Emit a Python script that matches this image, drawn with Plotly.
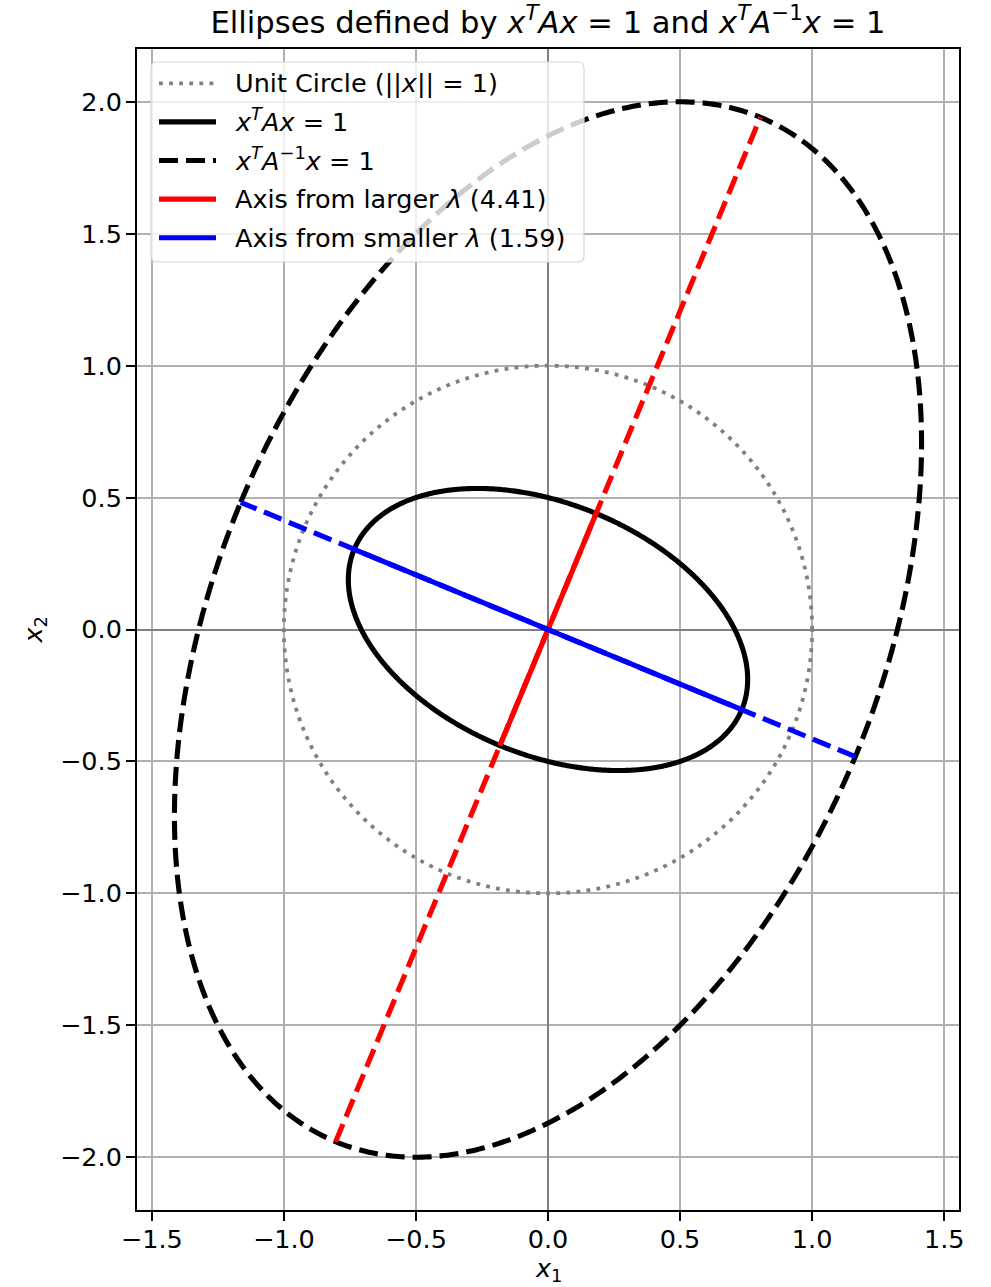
import numpy as np
import plotly.graph_objects as go

# Symmetric positive-definite matrix A defining the quadratic forms
A_row1 = [2.0, 1.0]
A_row2 = [1.0, 4.0]
A = np.array([A_row1, A_row2])

# Tick positions for both axes
x_ticks = [-1.5, -1.0, -0.5, 0.0, 0.5, 1.0, 1.5]
y_ticks = [-2.0, -1.5, -1.0, -0.5, 0.0, 0.5, 1.0, 1.5, 2.0]

# Eigen-decomposition (ascending eigenvalues)
eigvals, eigvecs = np.linalg.eigh(A)
lam_small, lam_large = eigvals
v_small, v_large = eigvecs[:, 0], eigvecs[:, 1]

theta = np.linspace(0, 2 * np.pi, 721)
circle = np.vstack([np.cos(theta), np.sin(theta)])

# x^T A x = 1  ->  x = V diag(1/sqrt(lam)) u
ell_A = eigvecs @ np.diag(1 / np.sqrt(eigvals)) @ circle
# x^T A^{-1} x = 1  ->  x = V diag(sqrt(lam)) u
ell_Ainv = eigvecs @ np.diag(np.sqrt(eigvals)) @ circle

FONT = "DejaVu Sans"
FS = 25.5          # base font size (ticks, labels, legend)
TITLE_FS = 30.6    # title font size
LW = 5.1           # main line width
DASH = "19px,8px"
DOT = "3.8px,6.3px"
XTA = "<i>x</i><sup><i>T</i></sup>"

# Figure geometry (px)
W, H = 991, 1287
ML, MR, MT, MB = 137, 32, 49, 77
PW, PH = W - ML - MR, H - MT - MB


def px_x(px):
    return (px - ML) / PW


def px_y(py):
    return (H - MB - py) / PH


fig = go.Figure()

# Unit circle
fig.add_trace(go.Scatter(
    x=circle[0], y=circle[1], mode="lines", showlegend=False,
    line=dict(color="gray", width=3.8, dash=DOT, simplify=False),
))
# Ellipse x^T A x = 1
fig.add_trace(go.Scatter(
    x=ell_A[0], y=ell_A[1], mode="lines", showlegend=False,
    line=dict(color="black", width=LW, simplify=False),
))
# Ellipse x^T A^-1 x = 1
fig.add_trace(go.Scatter(
    x=ell_Ainv[0], y=ell_Ainv[1], mode="lines", showlegend=False,
    line=dict(color="black", width=LW, dash=DASH, simplify=False),
))


def segment(v, r):
    return [-r * v[0], r * v[0]], [-r * v[1], r * v[1]]


# Short (solid) axes inside the A ellipse, long (dashed) axes reaching the A^-1 ellipse
for v, lam, col in [(v_large, lam_large, "red"), (v_small, lam_small, "blue")]:
    sx, sy = segment(v, 1 / np.sqrt(lam))
    fig.add_trace(go.Scatter(
        x=sx, y=sy, mode="lines", showlegend=False,
        line=dict(color=col, width=LW),
    ))
    sx, sy = segment(v, np.sqrt(lam))
    fig.add_trace(go.Scatter(
        x=sx, y=sy, mode="lines", showlegend=False, hoverinfo="skip",
        line=dict(color=col, width=LW, dash=DASH),
    ))

# Legend box (rounded, semi-transparent) drawn on top of the data
bx0, bx1, by0, by1, r = 151, 584, 62, 262, 6
rx, ry = r / PW, r / PH
X0, X1, Y0, Y1 = px_x(bx0), px_x(bx1), px_y(by1), px_y(by0)
path = (f"M{X0 + rx},{Y0} L{X1 - rx},{Y0} Q{X1},{Y0} {X1},{Y0 + ry} "
        f"L{X1},{Y1 - ry} Q{X1},{Y1} {X1 - rx},{Y1} "
        f"L{X0 + rx},{Y1} Q{X0},{Y1} {X0},{Y1 - ry} "
        f"L{X0},{Y0 + ry} Q{X0},{Y0} {X0 + rx},{Y0} Z")
fig.add_shape(type="path", path=path, xref="paper", yref="paper", layer="above",
              fillcolor="rgba(255,255,255,0.8)", line=dict(color="#d6d6d6", width=1.2))

legend_items = [
    ("Unit Circle (||<i>x</i>|| = 1)", dict(color="gray", width=3.8, dash=DOT), 0),
    (XTA + "<i>Ax</i> = 1", dict(color="black", width=LW), -2),
    (XTA + "<i>A</i><sup>−1</sup><i>x</i> = 1", dict(color="black", width=LW, dash=DASH), -2),
    (f"Axis from larger <i>λ</i> ({lam_large:.2f})", dict(color="red", width=LW), 0),
    (f"Axis from smaller <i>λ</i> ({lam_small:.2f})", dict(color="blue", width=LW), 0),
]
row_y0, row_dy = 83.3, 38.6
for i, (label, style, shift) in enumerate(legend_items):
    ly = row_y0 + i * row_dy
    fig.add_shape(type="line", xref="paper", yref="paper", layer="above",
                  x0=px_x(159), x1=px_x(216), y0=px_y(ly), y1=px_y(ly), line=style)
    fig.add_annotation(text=label, xref="paper", yref="paper", x=px_x(233), y=px_y(ly + shift),
                       xanchor="left", yanchor="middle", showarrow=False,
                       font=dict(family=FONT, size=FS, color="black"))

# Axis labels
fig.add_annotation(text="<i>x</i><sub>1</sub>", xref="paper", yref="paper",
                   x=0.5, y=px_y(1269), xanchor="center", yanchor="middle", showarrow=False,
                   font=dict(family=FONT, size=FS, color="black"))
fig.add_annotation(text="<i>x</i><sub>2</sub>", xref="paper", yref="paper",
                   x=px_x(34), y=0.5, xanchor="center", yanchor="middle", showarrow=False,
                   textangle=-90, font=dict(family=FONT, size=FS, color="black"))

axis_common = dict(
    showline=True, linecolor="black", linewidth=2, mirror=True,
    ticks="outside", ticklen=9, tickwidth=2, tickcolor="black",
    showgrid=True, gridcolor="#b0b0b0", gridwidth=2,
    zeroline=True, zerolinecolor="#808080", zerolinewidth=2,
    tickformat=".1f", automargin=False,
    tickfont=dict(family=FONT, size=FS, color="black"),
)

fig.update_xaxes(range=[-1.556, 1.556], tickvals=x_ticks, ticklabelstandoff=-4, **axis_common)
fig.update_yaxes(range=[-2.2, 2.2], tickvals=y_ticks, ticklabelstandoff=-1, **axis_common)

fig.update_layout(
    width=W, height=H,
    margin=dict(l=ML, r=MR, t=MT, b=MB),
    plot_bgcolor="white", paper_bgcolor="white",
    font=dict(family=FONT, color="black"),
    title=dict(
        text="Ellipses defined by " + XTA + "<i>Ax</i> = 1 and " + XTA + "<i>A</i><sup>−1</sup><i>x</i> = 1",
        x=548 / W, xanchor="center", y=1 - 22 / H, yanchor="middle",
        font=dict(family=FONT, size=TITLE_FS, color="black"),
    ),
    showlegend=False,
)

fig.write_html("out.html")
